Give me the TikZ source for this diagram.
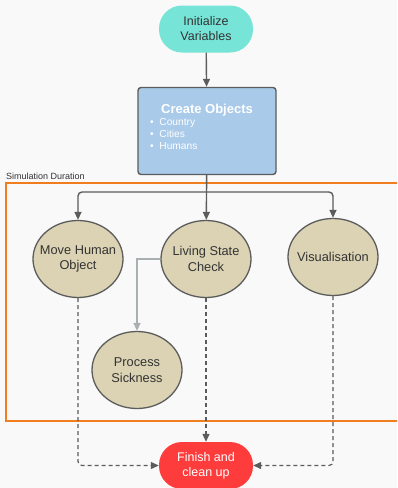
\documentclass[tikz,border=0pt]{standalone}
\usepackage{fontspec}
\setmainfont{Liberation Sans}
\usepackage{tikz}
\usetikzlibrary{arrows.meta,shapes.geometric}
\definecolor{canvas}{RGB}{249,249,249}
\definecolor{ink}{RGB}{51,51,51}
\definecolor{edge}{RGB}{92,92,92}
\definecolor{teal}{RGB}{118,228,214}
\definecolor{sky}{RGB}{169,202,232}
\definecolor{sand}{RGB}{219,211,180}
\definecolor{frame}{RGB}{240,125,30}
\definecolor{alert}{RGB}{255,60,60}
\definecolor{pale}{RGB}{170,176,178}

\begin{document}
\begin{tikzpicture}[x=1pt, y=-1pt,
  terminal/.style={rounded corners=23pt, minimum width=94pt, minimum height=47pt, inner sep=0pt, align=center, font=\fontsize{12.5}{15}\selectfont},
  process/.style={draw=edge, line width=1.4pt, rounded corners=3pt, fill=sky, minimum width=138pt, minimum height=87pt},
  task/.style={ellipse, draw=edge, line width=1.3pt, fill=sand, minimum width=90pt, minimum height=77pt, inner xsep=-10pt, inner ysep=0pt, align=center, text=ink, font=\fontsize{12.8}{15.5}\selectfont},
  flow/.style={-{Triangle[length=8pt, width=7pt]}, line width=1.4pt, edge, rounded corners=4pt},
  side/.style={-{Triangle[length=8pt, width=7pt]}, line width=1.4pt, pale},
  done/.style={-{Triangle[length=8pt, width=7pt]}, line width=1.2pt, edge, dash pattern=on 4pt off 3pt, rounded corners=4pt}]
\fill[canvas] (0,0) rectangle (397,488);
\useasboundingbox (0,0) rectangle (397,488);
\clip (0,0) rectangle (397,488);
% start and set-up
\node[terminal, fill=teal, text=ink] (init) at (206,29) {Initialize\\Variables};
\node[process] (create) at (207,131) {};
\node[text=white, font=\bfseries\fontsize{13}{15}\selectfont] (title) at (207,110) {Create Objects};
\node[text=white, anchor=north west, align=left, inner sep=0pt, font=\fontsize{10.2}{12.3}\selectfont] (list) at (150,118) {\textbullet\ \ Country\\\textbullet\ \ Cities\\\textbullet\ \ Humans};
% simulation loop
\draw[frame, line width=2.8pt] (6,183) rectangle (410,421);
\node[anchor=south west, inner sep=1pt, text=ink, font=\fontsize{9}{10}\selectfont] (sim) at (5,181) {Simulation Duration};
\node[task] (move) at (78,259) {Move Human\\Object};
\node[task] (living) at (206,259) {Living State\\Check};
\node[task] (visual) at (333,257) {Visualisation};
\node[task] (sickness) at (137,370) {Process\\Sickness};
% end
\node[terminal, fill=alert, text=white] (finish) at (206,465.5) {Finish and\\clean up};
\coordinate (split) at (206,192);
\draw[flow] (init) -- (create);
\draw[flow] (create) -- (living);
\draw[flow] (split) -| (move);
\draw[flow] (split) -| (visual);
\draw[side] (living.west) -| (sickness);
\draw[done] (move) |- (finish);
\draw[done] (living) -- (finish);
\draw[done] (visual) |- (finish);
\end{tikzpicture}
\end{document}
